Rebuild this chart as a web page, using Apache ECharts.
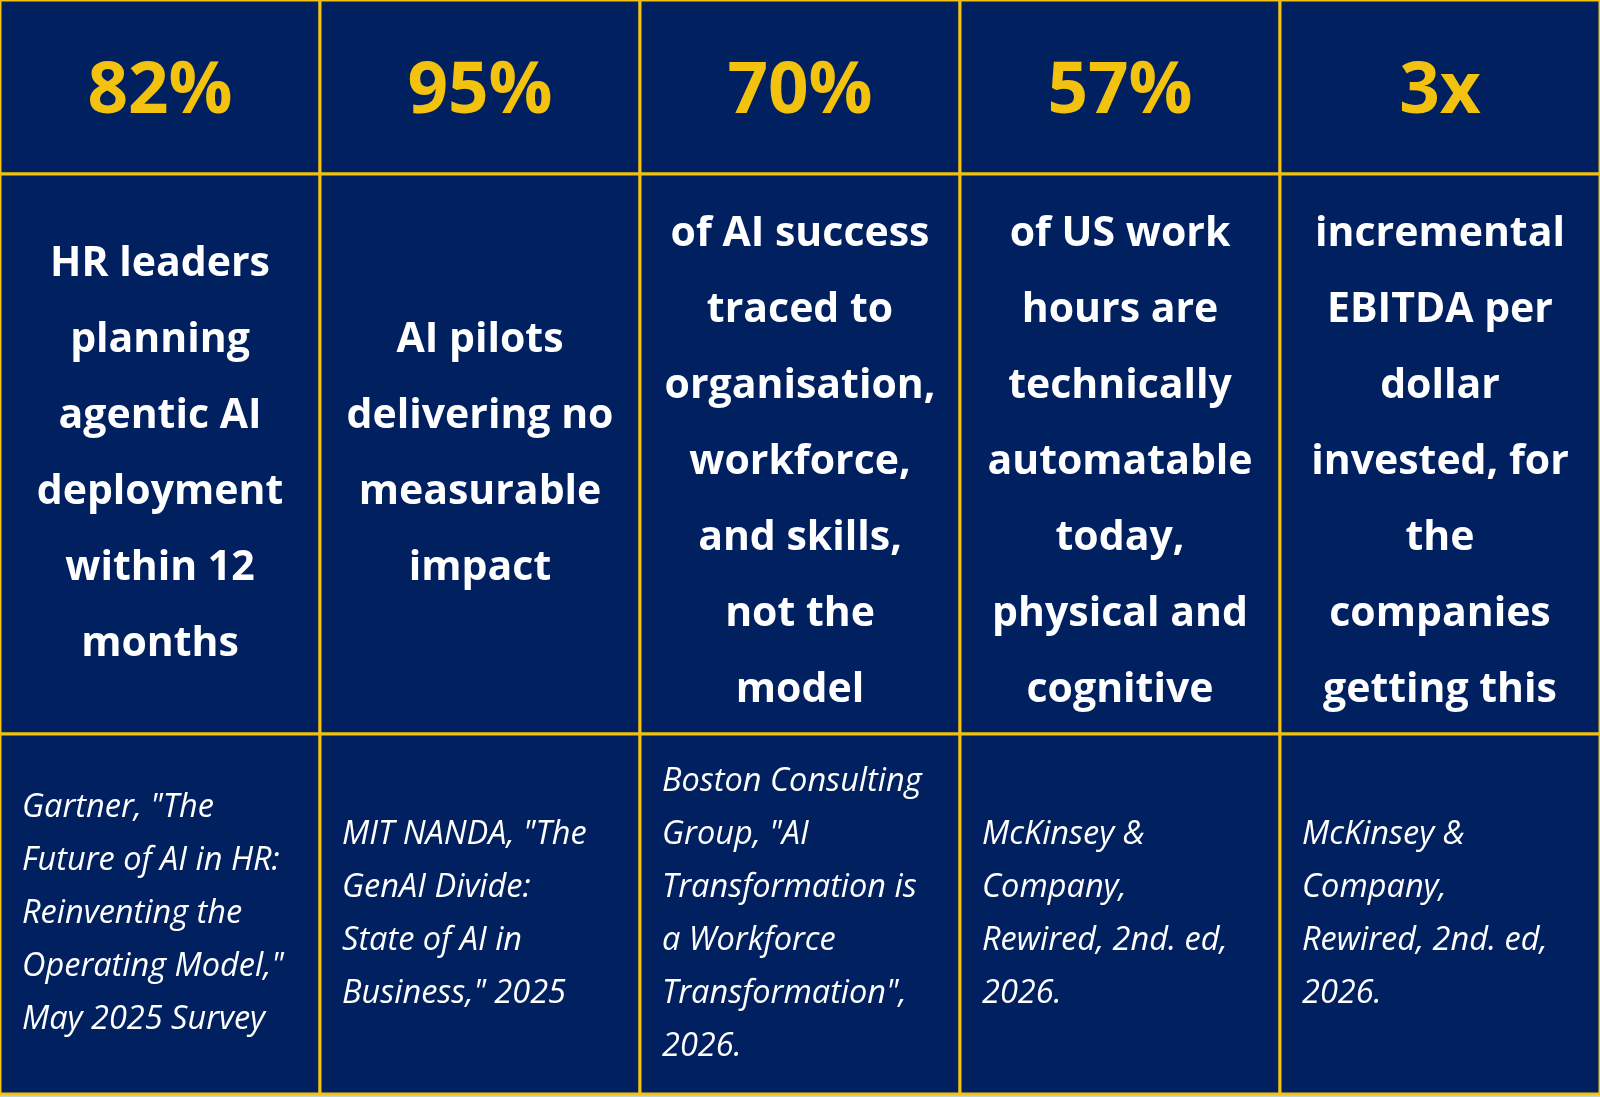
<!DOCTYPE html>
<html>
<head>
<meta charset="utf-8">
<script src="https://cdn.jsdelivr.net/npm/echarts@6/dist/echarts.min.js"></script>
<style>
  html, body { margin: 0; padding: 0; background: #c9cfdc; }
  #chart { width: 1600px; height: 1097px; }
</style>
</head>
<body>
<div id="chart"></div>
<script>
const stats = ["82%", "95%", "70%", "57%", "3x"];

const descriptions = [
  "HR leaders\nplanning\nagentic AI\ndeployment\nwithin 12\nmonths",
  "AI pilots\ndelivering no\nmeasurable\nimpact",
  "of AI success\ntraced to\norganisation,\nworkforce,\nand skills,\nnot the\nmodel",
  "of US work\nhours are\ntechnically\nautomatable\ntoday,\nphysical and\ncognitive",
  "incremental\nEBITDA per\ndollar\ninvested, for\nthe\ncompanies\ngetting this"
];

const sources = [
  "Gartner, \"The\nFuture of AI in HR:\nReinventing the\nOperating Model,\"\nMay 2025 Survey",
  "MIT NANDA, \"The\nGenAI Divide:\nState of AI in\nBusiness,\" 2025",
  "Boston Consulting\nGroup, \"AI\nTransformation is\na Workforce\nTransformation\",\n2026.",
  "McKinsey &\nCompany,\nRewired, 2nd. ed,\n2026.",
  "McKinsey &\nCompany,\nRewired, 2nd. ed,\n2026."
];

// layout: row boundaries in pixels along the hidden y axis
const rowEdges = [0, 174, 734, 1094];
const NAVY = "#002060";
const GOLD = "#f2c20f";
const DESC_LH = 76;
const SRC_LH = 53;

const cells = [];
stats.forEach((s, c) => {
  for (let r = 0; r < 3; r++) cells.push([c, r]);
});

function renderItem(params, api) {
  const col = api.value(0);
  const row = api.value(1);
  const top = api.coord([col, rowEdges[row]]);
  const bottom = api.coord([col, rowEdges[row + 1]]);
  const w = api.size([1, 0])[0];
  const x = top[0] - w / 2;
  const y = top[1];
  const h = bottom[1] - top[1];

  let text;
  if (row === 0) {
    text = {
      type: "text",
      style: {
        text: stats[col], x: x + w / 2, y: y + h / 2 + 6,
        align: "center", verticalAlign: "middle",
        font: 'bold 71px "Open Sans"', fill: GOLD
      }
    };
  } else if (row === 1) {
    // centre the block, but keep it clear of the top edge when it is tall
    const n = descriptions[col].split("\n").length;
    let firstLine = y + h / 2 - (n * DESC_LH) / 2 + DESC_LH / 2;
    firstLine = Math.max(firstLine, y + 60);
    text = {
      type: "text",
      style: {
        text: descriptions[col], x: x + w / 2, y: firstLine - DESC_LH / 2,
        align: "center", verticalAlign: "top",
        font: 'bold 41px "Open Sans"', lineHeight: DESC_LH, fill: "#ffffff"
      }
    };
  } else {
    text = {
      type: "text",
      style: {
        text: sources[col], x: x + 22, y: y + h / 2,
        align: "left", verticalAlign: "middle",
        font: 'italic 32.5px "Open Sans"', lineHeight: SRC_LH, fill: "#ffffff"
      }
    };
  }

  return {
    type: "group",
    children: [
      {
        type: "rect",
        shape: { x: x, y: y, width: w, height: h },
        style: { fill: NAVY, stroke: GOLD, lineWidth: 3 }
      },
      text
    ]
  };
}

const chart = echarts.init(document.getElementById("chart"));
chart.setOption({
  animation: false,
  grid: { left: 0, right: 0, top: 0, bottom: 3 },
  xAxis: { type: "category", data: stats, show: false },
  yAxis: { type: "value", inverse: true, min: 0, max: rowEdges[3], show: false },
  series: [{
    type: "custom",
    renderItem: renderItem,
    data: cells,
    silent: true
  }]
});
</script>
</body>
</html>
